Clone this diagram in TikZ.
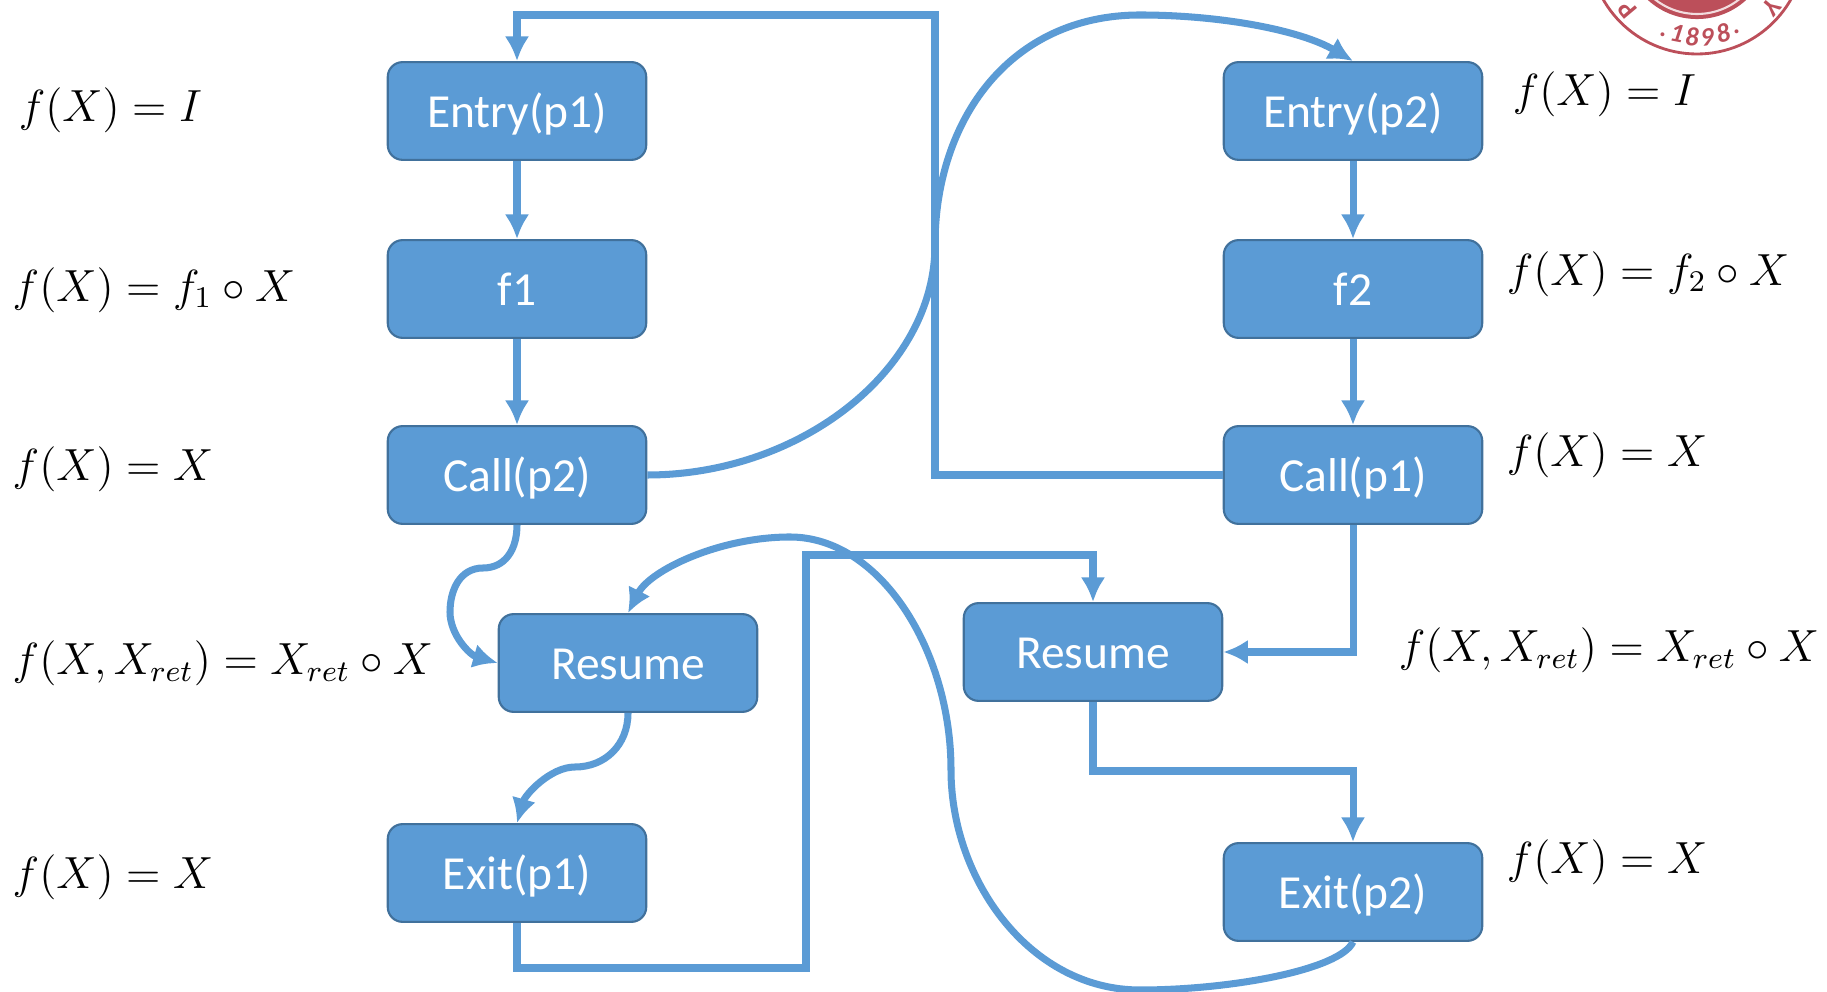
\documentclass[tikz,border=0pt]{standalone}
\usepackage{fontspec}
\setmainfont{Carlito}
\usepackage{xcolor}
\usepackage{tikz}
\usetikzlibrary{arrows.meta}
\definecolor{blockblue}{HTML}{5B9BD5}
\definecolor{blockedge}{HTML}{41719C}
\definecolor{sealred}{HTML}{BC4F5A}
\tikzset{>={Latex[length=7pt,width=7pt]},
    block/.style={draw=blockedge, fill=blockblue, line width=0.6pt, rounded corners=4.2pt,
      minimum width=73.5pt, minimum height=27.8pt, inner sep=0pt, text height=11pt, text depth=1.4pt,
      text=white, font=\fontsize{13.5}{15}\selectfont},
    link/.style={->, draw=blockblue, line width=2pt},
    formula/.style={anchor=west, inner sep=0pt, font=\fontsize{12}{15}\selectfont, scale=1.067, transform shape},
    sealtext/.style={text=sealred, inner sep=0pt, font=\fontsize{7.5}{8}\selectfont}}

\begin{document}
\begin{tikzpicture}[x=0.01cm, y=-0.01cm]
    \useasboundingbox (0, 0) rectangle (1827, 992);
    % university seal, cut by the page
    \begin{scope}
      \clip (0, 0) rectangle (1827, 992);
      \draw[draw=sealred, line width=0.8pt] (1697, -54) circle (108);
      \draw[draw=sealred, fill=sealred, line width=0.6pt] (1697, -54) circle (72);
      \draw[draw=white!80!sealred, line width=0.6pt] (1697, -54) circle (68);
      \node[sealtext, rotate=130, font=\bfseries\fontsize{7.5}{8}\selectfont] (sealp) at (1627, 10) {P};
      \node[sealtext, rotate=-130, font=\bfseries\fontsize{7.5}{8}\selectfont] (sealy) at (1772, 7) {Y};
      \foreach \ch/\px/\py/\a in {./1663/35/-18, 1/1677/33/-11, 8/1692/37/-3, 9/1707/37/5, 8/1723/33/14, ./1737/32/20} {
        \node[sealtext, font=\bfseries\itshape\fontsize{7.5}{8}\selectfont, rotate=\a] at (\px, \py) {\ch};
      }
    \end{scope}

    % left procedure
    \node[block] (entryi) at (517, 111) {Entry(p1)};
    \node[block] (fi) at (517, 289) {f1};
    \node[block] (callii) at (517, 475) {Call(p2)};
    \node[block] (resumei) at (628, 663) {Resume};
    \node[block] (exiti) at (517, 873) {Exit(p1)};
    % right procedure
    \node[block] (entryii) at (1353, 111) {Entry(p2)};
    \node[block] (fii) at (1353, 289) {f2};
    \node[block] (calli) at (1353, 475) {Call(p1)};
    \node[block] (resumeii) at (1093, 652) {Resume};
    \node[block] (exitii) at (1353, 892) {Exit(p2)};

    \draw[link] (entryi) -- (fi);
    \draw[link] (fi) -- (callii);
    \draw[link] (entryii) -- (fii);
    \draw[link] (fii) -- (calli);
    \draw[link] (calli.west) -- (935, 475) -- (935, 15) -- (517, 15) -- (entryi.north);
    \draw[link] (calli.south) -- (1353, 652) -- (resumeii.east);
    \draw[link] (resumeii.south) -- (1093, 771) -- (1353, 771) -- (exitii.north);
    \draw[link] (exiti.south) -- (517, 968) -- (806, 968) -- (806, 555) -- (1093, 555) -- (resumeii.north);
    \draw[link] (callii.east) .. controls (800, 475) and (935, 370) .. (935, 245)
      .. controls (935, 120) and (1010, 15) .. (1140, 15)
      .. controls (1220, 15) and (1300, 30) .. (entryii.north);
    \draw[link] (callii.south) .. controls (517, 550) and (505, 568) .. (483, 568)
      .. controls (460, 568) and (450, 590) .. (450, 612)
      .. controls (450, 635) and (470, 655) .. (resumei.west);
    \draw[link] (resumei.south) .. controls (628, 745) and (605, 767) .. (575, 767)
      .. controls (550, 767) and (525, 795) .. (exiti.north);
    \draw[link] (exitii.south) .. controls (1340, 970) and (1230, 990) .. (1140, 990)
      .. controls (1030, 990) and (951, 880) .. (951, 770)
      .. controls (951, 650) and (880, 537) .. (790, 537)
      .. controls (720, 537) and (650, 570) .. (resumei.north);

    % formulas
    \node[formula] (li) at (18, 110) {$f(X)=I$};
    \node[formula] (lii) at (12, 290) {$f(X)=f_1\circ X$};
    \node[formula] (liii) at (12, 469) {$f(X)=X$};
    \node[formula] (liv) at (12, 663) {$f(X,X_{ret})=X_{ret}\circ X$};
    \node[formula] (lv) at (12, 877) {$f(X)=X$};
    \node[formula] (ri) at (1512, 94) {$f(X)=I$};
    \node[formula] (rii) at (1506, 274) {$f(X)=f_2\circ X$};
    \node[formula] (riii) at (1506, 455) {$f(X)=X$};
    \node[formula] (riv) at (1398, 650) {$f(X,X_{ret})=X_{ret}\circ X$};
    \node[formula] (rv) at (1506, 862) {$f(X)=X$};
\end{tikzpicture}
\end{document}
